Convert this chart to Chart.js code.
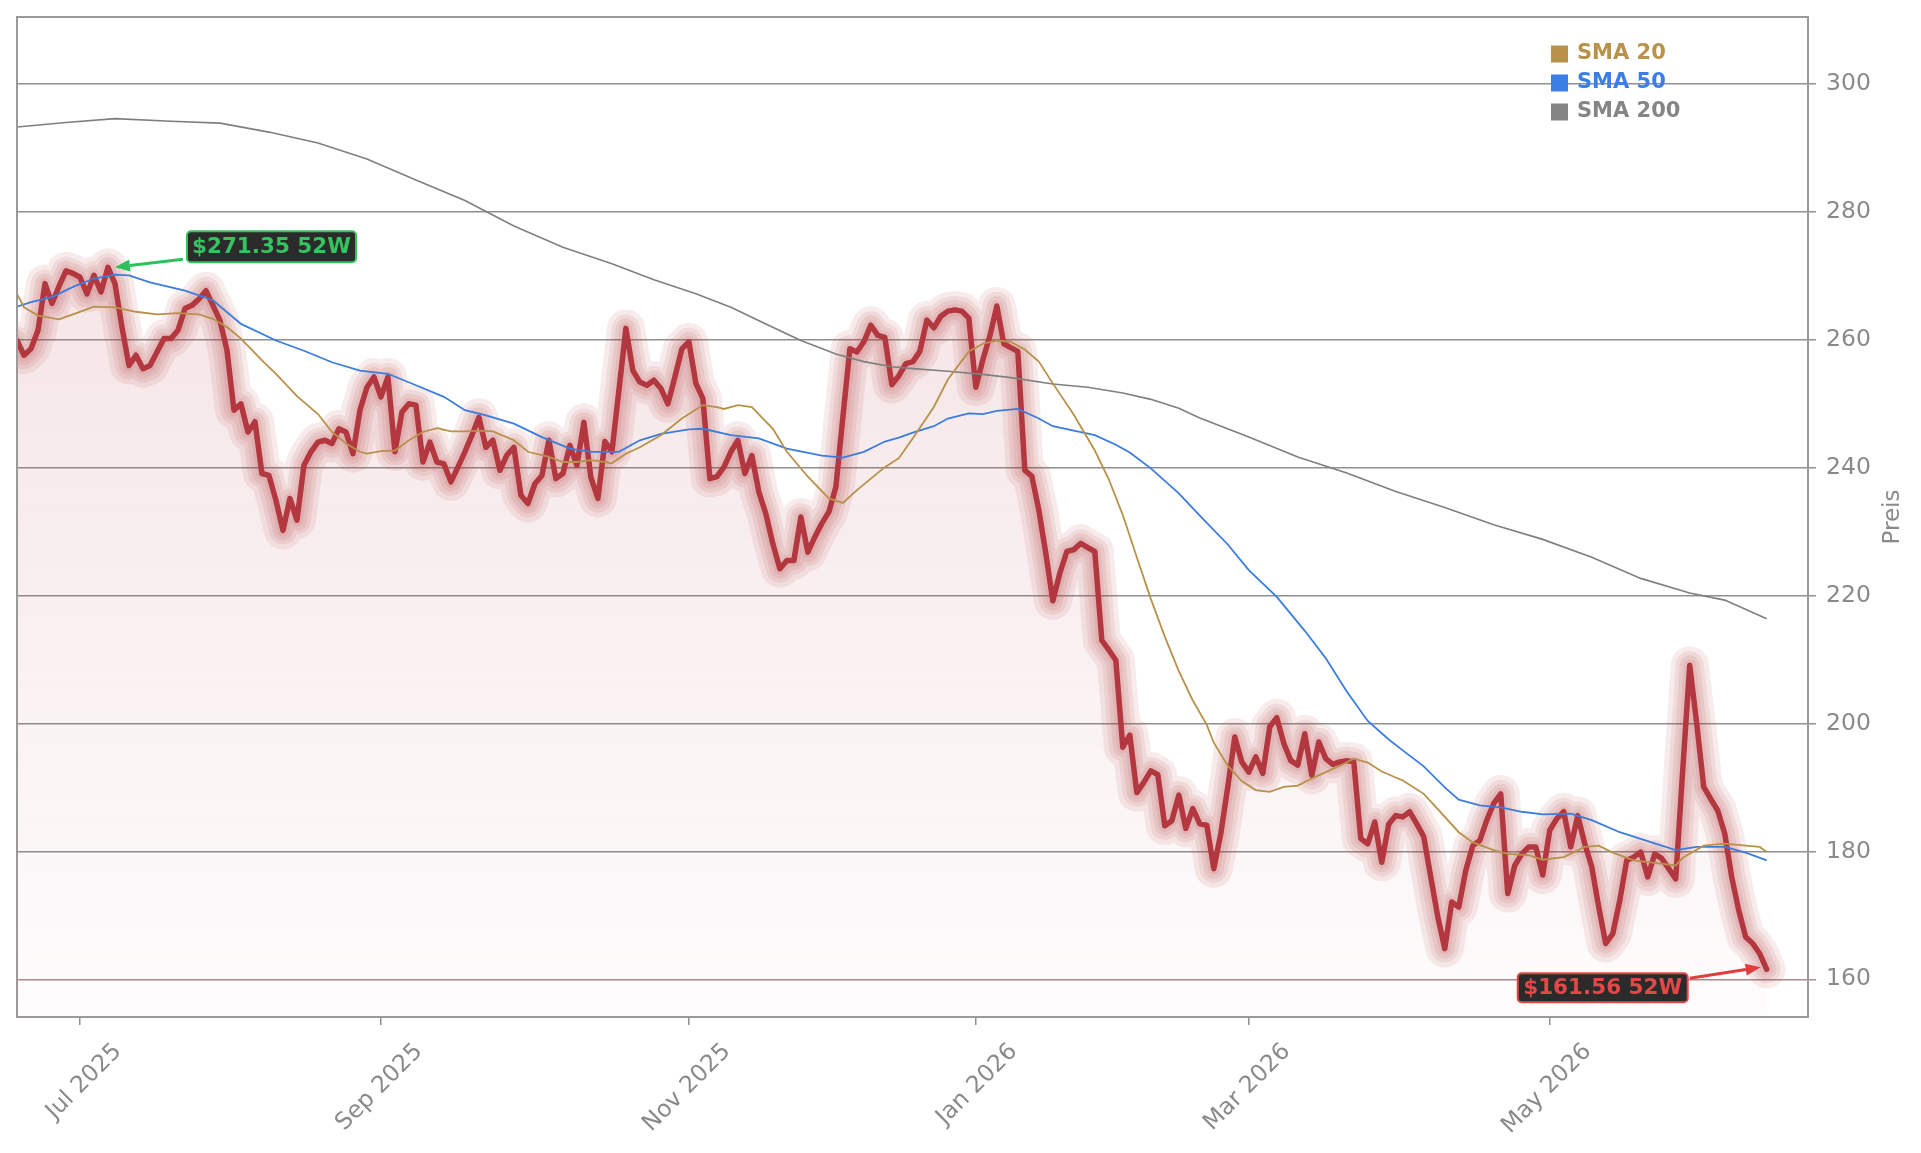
<!DOCTYPE html>
<html>
<head>
<meta charset="utf-8">
<script src="https://cdn.jsdelivr.net/npm/chart.js@4.4.1/dist/chart.umd.min.js"></script>
<style>
html,body{margin:0;padding:0;background:#fff}
#wrap{width:1921px;height:1153px;position:relative}
</style>
</head>
<body>
<div id="wrap"><canvas id="chart"></canvas></div>
<script>
// trading days, one value per session
const startDate = "2025-06-17";
const holidays = ["2025-06-19","2025-07-04","2025-09-01","2025-11-27","2025-12-25",
  "2026-01-01","2026-01-19","2026-02-16","2026-04-03","2026-05-25"];

const prices = [
  259.9,257.6,258.6,261.5,268.8,265.7,268.4,270.8,270.4,269.8,
  267.2,270.1,267.5,271.35,268.8,262.0,256.0,257.6,255.5,256.0,
  258.1,260.2,260.2,261.5,264.9,265.4,266.4,267.7,265.4,263.0,
  258.4,249.0,250.0,245.6,247.2,239.1,238.8,234.9,230.2,235.2,
  231.8,240.4,242.5,244.0,244.3,243.8,246.1,245.6,242.2,249.0,
  252.6,254.2,251.1,254.2,242.5,248.7,250.0,249.8,240.9,244.0,
  240.9,240.6,237.8,240.1,242.5,245.1,247.9,243.2,244.3,239.6,
  242.0,243.2,235.7,234.4,237.5,238.8,244.3,238.3,239.1,243.5,
  240.4,247.1,238.5,235.2,244.1,242.5,252.1,261.8,255.2,253.4,
  252.9,253.7,252.4,250.0,254.2,258.6,259.7,253.2,250.8,238.3,
  238.6,240.1,242.5,244.3,239.1,241.9,236.2,232.8,228.1,224.2,
  225.5,225.5,232.3,226.8,229.2,231.3,233.1,237.0,247.9,258.6,
  258.1,259.7,262.3,260.7,260.4,253.0,254.4,256.3,256.6,258.2,
  263.1,261.9,263.7,264.5,264.7,264.5,263.4,252.6,256.9,260.6,
  265.3,259.4,258.8,258.2,239.6,238.7,233.4,226.6,219.2,223.5,
  226.9,227.2,228.2,227.5,226.9,213.0,211.5,209.9,196.3,198.2,
  189.2,190.8,192.6,192.0,184.0,184.8,188.8,183.6,186.7,184.3,
  184.1,177.3,182.8,190.1,197.9,194.0,192.4,194.8,192.2,199.5,
  200.9,196.9,194.2,193.5,198.4,191.9,197.1,194.5,193.6,194.0,
  194.2,194.0,182.0,181.2,184.6,178.3,184.3,185.6,185.4,186.2,
  184.3,182.3,176.0,169.8,164.8,172.1,171.3,177.0,180.9,181.7,
  184.9,187.5,189.0,173.4,177.8,179.6,180.7,180.7,176.3,183.3,
  185.1,186.2,180.7,185.6,181.2,177.6,171.3,165.6,167.1,172.3,
  178.6,179.1,179.9,176.0,179.6,178.9,177.3,175.7,192.7,209.1,
  200.0,190.1,188.2,186.4,182.8,176.0,170.8,166.6,165.6,164.0,
  161.56
];

// moving averages, read at session index
const sma20Idx = [0,1,3,6,8,11,14,17,20,23,26,28,30,32,35,37,40,43,45,47,49,50,52,54,56,58,60,62,64,66,68,71,73,76,78,80,82,84,85,87,89,92,95,98,100,101,103,105,108,110,113,116,118,120,122,124,126,128,131,133,136,138,140,142,144,146,148,151,154,156,158,160,162,164,166,168,170,171,173,175,177,179,181,183,185,187,189,191,193,195,198,201,203,206,208,211,213,216,218,221,224,226,228,231,234,237,238,241,244,247,249,250];
const sma20 = [267.2,265.1,263.8,263.2,264.0,265.2,265.1,264.4,264.0,264.2,264.0,263.3,262.0,260.2,256.8,254.7,251.2,248.4,245.6,243.8,242.5,242.2,242.6,242.7,244.3,245.6,246.2,245.7,245.7,245.8,245.7,244.3,242.5,241.7,240.9,240.9,241.2,240.9,240.7,242.2,243.2,245.1,247.7,249.8,249.5,249.2,249.8,249.5,246.1,242.5,238.6,235.2,234.5,236.5,238.3,240.1,241.5,244.6,249.5,253.8,258.2,259.4,259.9,259.7,258.5,256.6,253.2,248.3,242.7,238.2,232.6,226.0,219.5,213.6,208.2,203.6,199.8,197.0,193.4,191.0,189.6,189.3,190.1,190.3,191.4,192.4,193.4,194.5,193.9,192.5,191.1,189.0,186.6,183.0,181.4,180.2,179.6,179.4,178.7,179.1,180.7,180.9,179.8,178.6,178.2,177.8,179.0,180.9,181.2,180.9,180.7,179.9];

const sma50Idx = [0,2,5,8,11,14,16,19,24,28,32,37,41,45,49,53,57,61,64,67,71,75,79,82,86,89,92,96,98,102,106,110,115,118,121,124,126,128,131,133,136,138,140,143,146,148,151,154,157,159,162,166,169,173,176,180,184,187,190,193,196,198,201,204,206,209,212,215,218,222,225,229,233,237,240,244,247,250];
const sma50 = [265.2,265.9,266.7,268.3,269.6,270.2,270.1,269.0,267.7,266.2,262.5,259.9,258.3,256.5,255.2,254.7,252.9,251.1,249.0,248.2,246.9,244.8,243.0,242.5,242.5,244.3,245.3,246.0,246.1,245.1,244.6,243.0,241.9,241.6,242.5,244.1,244.7,245.5,246.5,247.7,248.5,248.4,248.9,249.2,247.7,246.5,245.8,245.1,243.6,242.4,239.9,236.0,232.5,228.0,224.0,219.8,214.5,210.2,205.0,200.4,197.5,195.8,193.3,190.0,188.1,187.2,186.9,186.2,185.8,185.9,184.9,183.0,181.6,180.2,180.7,180.7,179.8,178.6];

const sma200Idx = [0,7,14,22,29,36,43,50,57,64,71,78,85,91,97,102,107,112,117,121,125,128,133,138,142,148,153,158,162,166,169,176,183,190,197,204,211,218,225,232,239,244,250];
const sma200 = [293.3,294.0,294.6,294.2,293.9,292.5,290.8,288.3,285.0,281.8,277.8,274.5,271.9,269.4,267.2,265.1,262.5,259.9,257.8,256.6,255.8,255.5,255.1,254.6,254.1,253.1,252.6,251.7,250.7,249.3,247.8,244.8,241.7,239.2,236.3,233.8,231.1,228.8,226.0,222.7,220.4,219.3,216.4];

const tickMonths = ["2025-07","2025-09","2025-11","2026-01","2026-03","2026-05"];
const tickLabels = ["Jul 2025","Sep 2025","Nov 2025","Jan 2026","Mar 2026","May 2026"];
const yTicks = [160,180,200,220,240,260,280,300];

const seriesNames = ["SMA 20","SMA 50","SMA 200"];
const seriesColors = ["#b8914a","#3b7fe6","#858585"];

function tradingDays(start, n){
  const out = [];
  const d = new Date(start + "T12:00:00Z");
  while(out.length < n){
    const s = d.toISOString().slice(0,10);
    const wd = d.getUTCDay();
    if(wd !== 0 && wd !== 6 && !holidays.includes(s)) out.push(s);
    d.setUTCDate(d.getUTCDate()+1);
  }
  return out;
}

const days = tradingDays(startDate, prices.length);
const tickIdx = tickMonths.map(m => days.findIndex(d => d.startsWith(m)));
const labelAt = {};
tickIdx.forEach((v,k) => labelAt[v] = tickLabels[k]);

const pts = (xs, ys) => xs.map((x,k) => ({x:x, y:ys[k]}));
const pricePts = prices.map((v,i) => ({x:i, y:v}));

const hiVal = Math.max(...prices), hiIdx = prices.indexOf(hiVal);
const loVal = Math.min(...prices), loIdx = prices.indexOf(loVal);

const FONT = "'DejaVu Sans', sans-serif";
const GREY = "#8a8a8a";

function glow(width){
  return {data: pricePts, borderColor: "rgba(178,54,62,0.1)", borderWidth: width,
    pointRadius: 0, fill: false, borderJoinStyle: "round", borderCapStyle: "round"};
}

function arrow(ctx, x1, y1, x2, y2, color){
  const a = Math.atan2(y2-y1, x2-x1);
  const hl = 15, hw = 6;
  ctx.strokeStyle = color; ctx.fillStyle = color; ctx.lineWidth = 3;
  ctx.beginPath();
  ctx.moveTo(x1, y1);
  ctx.lineTo(x2 - hl*Math.cos(a), y2 - hl*Math.sin(a));
  ctx.stroke();
  ctx.beginPath();
  ctx.moveTo(x2, y2);
  ctx.lineTo(x2 - hl*Math.cos(a) + hw*Math.sin(a), y2 - hl*Math.sin(a) - hw*Math.cos(a));
  ctx.lineTo(x2 - hl*Math.cos(a) - hw*Math.sin(a), y2 - hl*Math.sin(a) + hw*Math.cos(a));
  ctx.closePath();
  ctx.fill();
}

function tag(ctx, x, y, w, h, text, color){
  ctx.beginPath();
  ctx.roundRect(x, y, w, h, 4);
  ctx.fillStyle = "#2b2b2b";
  ctx.fill();
  ctx.lineWidth = 2;
  ctx.strokeStyle = color;
  ctx.stroke();
  ctx.fillStyle = color;
  ctx.font = "bold 21.5px " + FONT;
  ctx.textAlign = "center";
  ctx.textBaseline = "middle";
  ctx.fillText(text, x + w/2, y + h/2 + 1);
}

const extras = {
  id: "extras",
  afterDraw(chart){
    const {ctx, chartArea: a, scales: {x, y}} = chart;
    ctx.save();
    // frame
    ctx.strokeStyle = "#9a9a9a";
    ctx.lineWidth = 2;
    ctx.strokeRect(a.left, a.top, a.right - a.left, a.bottom - a.top);

    // 52 week high / low tags
    const hx = x.getPixelForValue(hiIdx), hy = y.getPixelForValue(hiVal);
    arrow(ctx, hx + 75, hy - 8, hx + 7, hy, "#2ec05c");
    tag(ctx, hx + 79, hy - 36, 169, 31, "$" + hiVal.toFixed(2) + " 52W", "#35c35f");

    const lx = x.getPixelForValue(loIdx), ly = y.getPixelForValue(loVal);
    arrow(ctx, lx - 77, ly + 9, lx - 6, ly - 2, "#e23c3c");
    tag(ctx, lx - 249, ly + 4, 170, 29, "$" + loVal.toFixed(2) + " 52W", "#e34848");

    // legend
    ctx.font = "bold 21px " + FONT;
    ctx.textAlign = "left";
    ctx.textBaseline = "middle";
    seriesNames.forEach((n, k) => {
      const cy = 54 + k * 29;
      ctx.fillStyle = seriesColors[k];
      ctx.fillRect(1551, cy - 8.5, 17, 17);
      ctx.fillText(n, 1577, cy);
    });

    // axis title
    ctx.translate(1893, (a.top + a.bottom) / 2);
    ctx.rotate(-Math.PI / 2);
    ctx.font = "23px " + FONT;
    ctx.fillStyle = GREY;
    ctx.textAlign = "center";
    ctx.fillText("Preis", 0, 0);
    ctx.restore();
  }
};

new Chart(document.getElementById("chart"), {
  type: "line",
  data: {
    datasets: [
      {label: seriesNames[0], data: pts(sma20Idx, sma20), borderColor: seriesColors[0], borderWidth: 1.8, pointRadius: 0, fill: false},
      {label: seriesNames[1], data: pts(sma50Idx, sma50), borderColor: "#3b7ddd", borderWidth: 1.8, pointRadius: 0, fill: false},
      {label: seriesNames[2], data: pts(sma200Idx, sma200), borderColor: "#7f7f7f", borderWidth: 1.6, pointRadius: 0, fill: false},
      {label: "Kurs", data: pricePts, borderColor: "#b3373f", borderWidth: 5.5, pointRadius: 0, fill: false,
        borderJoinStyle: "round", borderCapStyle: "round"},
      glow(12), glow(20), glow(28), glow(38),
      {label: "area", data: pricePts, borderWidth: 0, pointRadius: 0, fill: "start",
        backgroundColor: (c) => {
          const a = c.chart.chartArea;
          if(!a) return "transparent";
          const top = c.chart.scales.y.getPixelForValue(hiVal);
          const g = c.chart.ctx.createLinearGradient(0, top, 0, a.bottom);
          g.addColorStop(0, "rgba(180,56,66,0.13)");
          g.addColorStop(1, "rgba(180,56,66,0.015)");
          return g;
        }}
    ]
  },
  options: {
    responsive: true,
    maintainAspectRatio: false,
    animation: false,
    layout: {padding: {left: 17, top: 17, right: 0, bottom: 0}},
    plugins: {legend: {display: false}, tooltip: {enabled: false}},
    scales: {
      x: {
        type: "linear",
        min: 0,
        max: 255.9,
        afterBuildTicks: (s) => { s.ticks = tickIdx.map(v => ({value: v})); },
        afterFit: (s) => { s.height = 136; s.paddingLeft = 0; s.paddingRight = 0; },
        ticks: {
          autoSkip: false, minRotation: 45, maxRotation: 45,
          callback: (v) => labelAt[v],
          color: GREY, font: {family: FONT, size: 23.5},
          labelOffset: 38, padding: 13
        },
        grid: {drawOnChartArea: false, drawTicks: true, tickLength: 8, color: "#8f8f8f", lineWidth: 1.5},
        border: {display: false}
      },
      y: {
        position: "right",
        min: 154.1,
        max: 310.5,
        afterBuildTicks: (s) => { s.ticks = yTicks.map(v => ({value: v})); },
        afterFit: (s) => { s.width = 113; s.paddingTop = 0; s.paddingBottom = 0; },
        ticks: {color: GREY, font: {family: FONT, size: 23.5}, padding: 10},
        grid: {
          color: (c) => (c.tick && c.tick.value === 160) ? "#a88c8e" : "#8f8f8f",
          lineWidth: 1.5, tickLength: 8
        },
        border: {display: false}
      }
    }
  },
  plugins: [extras]
});
</script>
</body>
</html>
